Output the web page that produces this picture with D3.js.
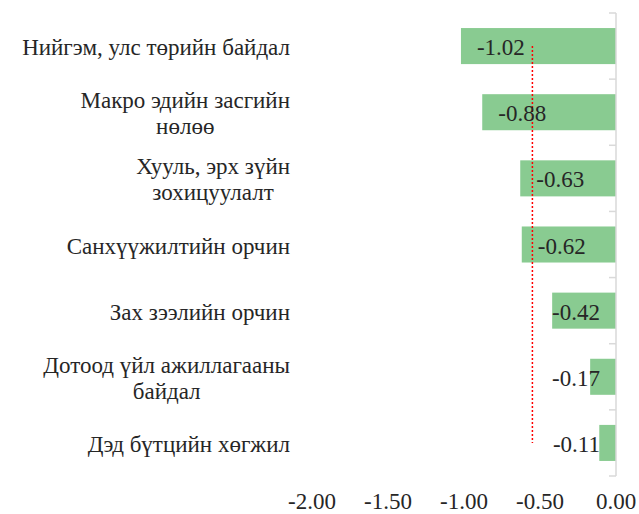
<!DOCTYPE html>
<html>
<head>
<meta charset="utf-8">
<script src="https://cdn.jsdelivr.net/npm/d3@7"></script>
<style>
  body { margin: 0; background: #fff; }
  svg { display: block; }
  text { font-family: "Liberation Serif", "DejaVu Serif", "Times New Roman", serif; }
</style>
</head>
<body>
<script>
// categories (line breaks as in the original chart)
const categories = [
    "Нийгэм, улс төрийн байдал",
    "Макро эдийн засгийн\nнөлөө",
    "Хууль, эрх зүйн\nзохицуулалт",
    "Санхүүжилтийн орчин",
    "Зах зээлийн орчин",
    "Дотоод үйл ажиллагааны\nбайдал",
    "Дэд бүтцийн хөгжил"
];
const values = [-1.02, -0.88, -0.63, -0.62, -0.42, -0.17, -0.11];
const xTicks = [-2.0, -1.5, -1.0, -0.5, 0.0];

const width = 639;
const height = 514;
const fontSize = 23;

const svg = d3.select("body").append("svg")
    .attr("width", width)
    .attr("height", height);

const x = d3.scaleLinear().domain([-2, 0]).range([312, 616]);
const y = d3.scaleBand().domain(categories).range([13, 476]).paddingInner(0.455).paddingOuter(0.2275);

// band edges for the tick marks (full step, no padding)
const step = (476 - 13) / categories.length;

// bars
svg.selectAll("rect.bar")
    .data(values)
    .join("rect")
    .attr("class", "bar")
    .attr("x", d => x(d))
    .attr("y", (d, i) => y(categories[i]))
    .attr("width", d => x(0) - x(d))
    .attr("height", y.bandwidth())
    .attr("fill", "#89cb91");

// vertical axis at zero with small ticks
const axisG = svg.append("g");
axisG.append("line")
    .attr("x1", x(0)).attr("x2", x(0))
    .attr("y1", 13).attr("y2", 476)
    .attr("stroke", "#d9d9d9").attr("stroke-width", 1.5);
axisG.selectAll("line.tick")
    .data(d3.range(categories.length + 1))
    .join("line")
    .attr("class", "tick")
    .attr("x1", x(0) - 7).attr("x2", x(0))
    .attr("y1", i => 13 + i * step).attr("y2", i => 13 + i * step)
    .attr("stroke", "#d9d9d9").attr("stroke-width", 1.5);

// average line (red dotted)
const avg = d3.mean(values);
svg.append("line")
    .attr("x1", x(avg)).attr("x2", x(avg))
    .attr("y1", y(categories[0]) + y.bandwidth() / 2)
    .attr("y2", y(categories[categories.length - 1]) + y.bandwidth() / 2)
    .attr("stroke", "#ff0000")
    .attr("stroke-width", 1.5)
    .attr("stroke-dasharray", "2,2");

// data labels
svg.selectAll("text.val")
    .data(values)
    .join("text")
    .attr("class", "val")
    .attr("y", (d, i) => y(categories[i]) + y.bandwidth() / 2 + 9)
    .attr("font-size", fontSize)
    .attr("fill", "#262626")
    .text(d => d.toFixed(2))
    .attr("x", function(d) {
        const w = this.getComputedTextLength();
        return Math.min(x(d) + 16, x(0) - 16 - w);
    });

// category labels, lines centered, block right-aligned at 290
categories.forEach((c, i) => {
    const lines = c.split("\n");
    const cy = y(c) + y.bandwidth() / 2;
    const t = svg.append("text")
        .attr("font-size", fontSize)
        .attr("fill", "#262626")
        .attr("text-anchor", "middle");
    lines.forEach((ln, j) => {
        t.append("tspan")
            .attr("y", cy + 9 + (j - (lines.length - 1) / 2) * 26)
            .text(ln);
    });
    let maxW = 0;
    t.selectAll("tspan").each(function() {
        maxW = Math.max(maxW, this.getComputedTextLength());
    });
    t.selectAll("tspan").attr("x", 290 - maxW / 2);
});

// x axis labels only
svg.selectAll("text.xt")
    .data(xTicks)
    .join("text")
    .attr("class", "xt")
    .attr("x", d => x(d))
    .attr("y", 509)
    .attr("text-anchor", "middle")
    .attr("font-size", fontSize)
    .attr("fill", "#262626")
    .text(d => d.toFixed(2));
</script>
</body>
</html>
